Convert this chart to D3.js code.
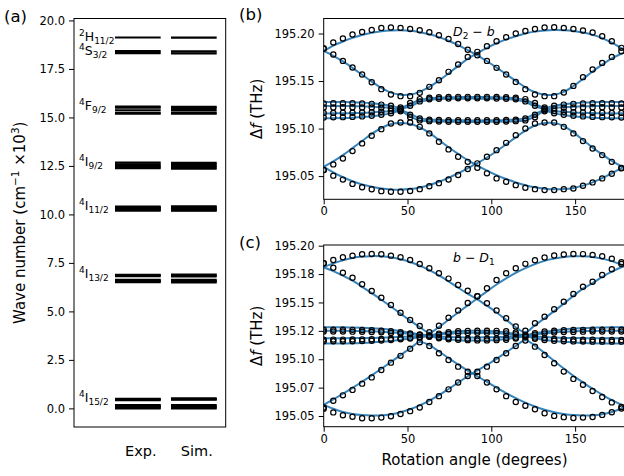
<!DOCTYPE html>
<html>
<head>
<meta charset="utf-8">
<script src="https://cdnjs.cloudflare.com/ajax/libs/d3/7.8.5/d3.min.js"></script>
<style>
  body { margin: 0; background: #fff; }
  text { font-family: "DejaVu Sans", sans-serif; fill: #000; }
</style>
</head>
<body>
<div id="chart-area"></div>
<script>
// ---------- panel (a): energy levels, 10^3 cm^-1 ----------
var columns = ["Exp.", "Sim."];
var termSup = ["2", "4", "4", "4", "4", "4", "4"];
var termLetter = ["H", "S", "F", "I", "I", "I", "I"];
var termSub = ["11/2", "3/2", "9/2", "9/2", "11/2", "13/2", "15/2"];
var expLevels = [
  [19.12],
  [18.31, 18.42],
  [15.19, 15.24, 15.37, 15.50, 15.56],
  [12.38, 12.43, 12.50, 12.58, 12.67],
  [10.20, 10.23, 10.28, 10.33, 10.36, 10.40],
  [6.51, 6.55, 6.59, 6.62, 6.82, 6.86, 6.89],
  [0.0, 0.04, 0.09, 0.13, 0.165, 0.43, 0.46, 0.49]
];
var simLevels = [
  [19.11],
  [18.30, 18.40],
  [15.19, 15.25, 15.38, 15.49, 15.55],
  [12.36, 12.42, 12.50, 12.58, 12.66],
  [10.19, 10.22, 10.27, 10.32, 10.37, 10.42],
  [6.50, 6.54, 6.58, 6.63, 6.81, 6.85, 6.90],
  [0.0, 0.05, 0.10, 0.17, 0.45, 0.48, 0.52]
];
var aTicks = [0, 2.5, 5, 7.5, 10, 12.5, 15, 17.5, 20];

// ---------- panels (b), (c): line frequencies vs rotation angle ----------
// frequencies are in GHz above 195 THz
var F0 = 195;
// measurement angles (0.1 rad steps, in degrees)
var angles = [0, 5.73, 11.46, 17.19, 22.92, 28.65, 34.38, 40.11, 45.84, 51.57, 57.30,
  63.03, 68.75, 74.48, 80.21, 85.94, 91.67, 97.40, 103.13, 108.86, 114.59, 120.32,
  126.05, 131.78, 137.51, 143.24, 148.97, 154.70, 160.43, 166.16, 171.89, 177.62];
// simulation curves run on to the end of the axis
var simAngles = angles.concat([180]);

// (b) D2 - b, measured
var bExpA = [184.2,190.5,194.7,198.9,201.7,203.8,205.9,206.3,205.9,204.8,203.5,201.4,198.2,194.3,189.0,183.0,177.2,171.2,163.9,156.9,149.1,141.5,135.9,134.1,134.1,138.0,144.9,154.1,162.2,169.1,175.4,181.4];
var bExpB = [184.2,178.0,171.2,164.3,156.9,148.8,141.5,135.9,134.1,134.1,137.6,143.9,150.9,159.7,167.4,175.4,180.7,186.7,191.9,196.1,200.0,202.7,204.8,206.3,206.6,205.9,204.8,203.1,201.0,197.2,191.9,184.9];
var bExpC = [56.3,50.5,46.3,41.8,38.2,36.1,34.2,33.5,33.5,34.3,36.3,39.3,42.6,46.5,51.1,57.4,63.4,70.3,77.3,85.0,93.1,100.1,105.4,106.4,106.4,101.8,94.9,86.8,79.1,72.1,65.0,58.7];
var bExpD = [56.3,62.3,68.6,76.3,84.4,92.4,99.4,105.4,106.4,106.4,101.8,94.9,86.1,78.1,70.3,65.0,58.7,52.9,47.6,44.0,40.5,37.7,36.3,35.3,35.3,36.3,37.0,39.8,43.4,47.6,52.4,58.1];
var bExpM1 = [126.4,126.6,126.7,126.7,126.5,126.0,125.2,124.0,122.2,127.0,131.0,132.4,133.0,133.3,133.4,133.4,133.4,133.4,133.3,133.0,132.4,131.0,127.0,122.2,124.0,125.2,126.0,126.5,126.7,126.7,126.6,126.4];
var bExpM2 = [122.2,122.3,122.4,122.4,122.3,122.1,121.8,121.2,120.6,124.0,128.6,130.8,131.4,131.7,131.8,131.8,131.8,131.8,131.7,131.4,130.8,128.6,124.0,120.6,121.2,121.8,122.1,122.3,122.4,122.4,122.3,122.2];
var bExpM3 = [116.5,116.5,116.6,116.7,116.9,117.2,117.7,118.4,119.2,114.5,110.6,109.4,109.0,108.8,108.7,108.7,108.7,108.7,108.8,109.0,109.4,110.6,114.5,119.2,118.4,117.7,117.2,116.9,116.7,116.6,116.5,116.5];
var bExpM4 = [111.7,111.8,112.0,112.3,112.8,113.5,114.5,116.0,118.2,112.0,108.6,107.8,107.4,107.2,107.1,107.1,107.1,107.1,107.2,107.4,107.8,108.6,112.0,118.2,116.0,114.5,113.5,112.8,112.3,112.0,111.8,111.7];

// (b) simulation (last value at 180 deg)
var bSimA = [181.4,187.2,191.6,195.4,198.4,200.8,202.4,203.2,203.4,202.8,201.4,199.2,196.2,192.4,187.8,182.6,177.0,170.8,164.2,157.2,150.2,143.4,138.2,135.6,135.6,138.6,144.6,152.2,160.0,167.2,173.8,178.8,180.8];
var bSimB = [181.4,176.6,170.6,163.8,156.6,149.4,142.8,137.8,135.6,135.8,138.6,143.8,150.4,158.0,166.0,173.4,179.4,185.0,189.8,193.8,197.2,200.0,202.0,203.2,203.6,203.4,202.6,201.0,198.6,195.2,190.4,184.6,182.2];
var bSimC = [59.8,54.0,48.8,44.6,41.2,38.8,37.0,36.0,35.8,36.4,38.0,40.6,44.0,48.2,53.0,58.2,63.6,69.6,76.2,83.4,90.8,97.8,103.2,105.8,105.8,102.6,96.0,88.0,80.0,72.8,66.0,60.4,58.6];
var bSimD = [59.8,65.4,72.0,79.4,87.0,94.4,100.6,104.8,105.8,104.8,101.2,95.4,88.0,80.4,73.4,66.8,61.0,55.8,51.0,47.0,43.4,40.4,38.2,36.8,36.2,36.4,37.6,40.0,43.4,47.8,53.0,58.4,60.4];
var bSimM1 = [128.0,128.0,127.9,127.7,127.3,126.6,125.5,124.0,122.0,126.0,130.0,131.8,132.6,133.0,133.1,133.2,133.2,133.1,133.0,132.6,131.8,130.0,126.0,122.0,124.0,125.5,126.6,127.3,127.7,127.9,128.0,128.0,128.0];
var bSimM2 = [123.8,123.8,123.7,123.6,123.4,123.0,122.4,121.6,120.6,123.5,127.8,130.2,131.0,131.3,131.4,131.5,131.5,131.4,131.3,131.0,130.2,127.8,123.5,120.6,121.6,122.4,123.0,123.4,123.6,123.7,123.8,123.8,123.8];
var bSimM3 = [116.0,116.0,116.1,116.3,116.6,117.0,117.6,118.4,119.4,115.5,111.0,109.6,109.1,108.8,108.7,108.6,108.6,108.7,108.8,109.1,109.6,111.0,115.5,119.4,118.4,117.6,117.0,116.6,116.3,116.1,116.0,116.0,116.0];
var bSimM4 = [110.8,110.9,111.1,111.5,112.1,113.0,114.3,116.0,118.4,112.5,108.6,107.8,107.4,107.2,107.1,107.0,107.0,107.1,107.2,107.4,107.8,108.6,112.5,118.4,116.0,114.3,113.0,112.1,111.5,111.1,110.9,110.8,110.8];

// (c) b - D1, measured
var cExpA = [184.5,180.6,176.2,171.8,166.0,160.1,154.2,147.8,141.0,134.6,129.3,123.8,129.5,136.5,143.0,149.5,155.5,162.5,169.8,175.7,180.1,184.0,187.2,189.6,191.3,192.3,192.7,192.6,191.9,190.7,188.6,185.4];
var cExpB = [184.5,187.4,189.8,191.2,192.4,192.7,192.4,191.2,189.8,187.4,183.9,180.1,175.7,171.0,165.4,160.3,155.5,149.3,143.0,136.1,128.8,125.2,131.7,137.5,144.0,150.7,157.5,163.9,168.3,174.2,179.2,183.9];
var cExpC = [57.5,63.5,68.2,73.0,78.5,84.0,90.5,97.0,103.0,109.3,115.0,111.7,105.3,99.4,93.5,89.0,85.2,79.5,73.5,67.5,62.4,59.0,56.0,52.5,50.1,49.0,48.3,48.6,49.2,51.0,53.3,56.6];
var cExpD = [56.4,53.2,50.7,49.3,48.1,48.1,48.6,49.8,51.8,54.3,57.5,62.4,67.5,73.5,79.5,85.2,89.0,93.5,99.4,105.3,111.7,116.5,111.1,103.8,96.5,89.1,82.7,77.5,72.0,66.8,62.0,58.0];
var cExpM1 = [126.0,126.0,126.0,125.9,125.8,125.6,125.2,124.6,123.8,122.8,121.8,121.0,122.6,123.8,124.6,125.0,125.2,125.2,125.0,124.6,123.6,121.5,123.0,124.4,125.2,125.6,125.8,125.9,126.0,126.0,126.0,126.0];
var cExpM2 = [124.4,124.4,124.4,124.3,124.2,124.0,123.7,123.2,122.6,122.0,121.3,120.6,121.6,122.4,122.9,123.2,123.4,123.4,123.2,122.8,122.0,120.8,121.8,122.8,123.5,123.9,124.1,124.3,124.4,124.4,124.4,124.4];
var cExpM3 = [117.3,117.3,117.3,117.4,117.5,117.6,117.8,118.1,118.5,119.0,119.6,120.2,119.4,118.8,118.4,118.1,118.0,118.0,118.2,118.6,119.2,120.0,119.2,118.4,117.9,117.6,117.4,117.2,117.1,117.0,117.0,117.0];
var cExpM4 = [115.8,115.8,115.8,115.9,116.0,116.2,116.5,116.9,117.5,118.2,119.0,119.8,118.4,117.6,117.1,116.8,116.6,116.6,116.8,117.2,118.2,119.6,118.0,116.9,116.3,115.9,115.7,115.6,115.5,115.5,115.5,115.5];

// (c) simulation (last value at 180 deg)
var cSimA = [181.0,177.6,173.6,169.2,163.8,158.2,152.4,146.4,140.2,134.0,128.4,123.4,128.4,134.8,141.2,147.4,153.6,159.8,165.8,171.2,176.0,180.2,183.8,186.6,188.6,190.0,190.6,190.6,190.0,188.6,186.4,183.2,181.4];
var cSimB = [181.0,184.4,187.2,189.2,190.4,190.8,190.6,189.8,188.0,185.6,182.4,178.4,173.8,168.6,163.0,157.6,152.8,147.2,141.2,134.8,128.2,123.8,130.0,136.0,142.4,149.0,155.8,162.2,167.0,172.6,177.2,181.0,182.0];
var cSimC = [59.8,64.6,69.6,74.8,80.2,85.8,91.6,97.6,103.6,109.6,115.2,112.4,106.8,101.0,95.4,90.0,85.0,80.0,75.0,70.2,65.8,61.8,58.4,55.6,53.4,51.8,50.8,50.4,50.6,51.6,53.6,56.8,59.6];
var cSimD = [59.8,56.4,53.6,51.8,50.8,50.4,50.6,51.6,53.4,56.0,59.4,63.6,68.4,73.8,79.4,85.0,90.2,95.0,100.4,106.0,111.8,116.8,112.0,105.4,98.6,91.8,85.4,79.6,74.0,68.8,64.0,60.0,58.6];
var cSimM1 = [128.2,128.2,128.1,128.0,127.8,127.4,126.8,126.0,124.8,123.4,122.0,121.2,122.6,123.8,124.6,125.0,125.0,124.8,124.4,123.6,122.2,121.4,122.8,124.2,125.4,126.4,127.0,127.5,127.8,128.0,128.1,128.2,128.2];
var cSimM2 = [125.0,125.0,125.0,124.9,124.8,124.6,124.3,123.8,123.2,122.4,121.6,120.8,121.8,122.5,122.9,123.2,123.2,123.1,122.8,122.3,121.4,120.9,121.8,122.8,123.6,124.2,124.6,124.8,124.9,125.0,125.0,125.0,125.0];
var cSimM3 = [118.5,118.5,118.5,118.6,118.7,118.8,119.0,119.3,119.6,120.0,120.4,120.6,120.0,119.6,119.3,119.2,119.2,119.3,119.5,119.8,120.3,120.5,120.0,119.5,119.1,118.8,118.7,118.6,118.5,118.5,118.5,118.5,118.5];
var cSimM4 = [113.8,113.8,113.9,114.0,114.3,114.7,115.3,116.1,117.1,118.2,119.3,120.2,118.6,117.5,116.8,116.5,116.4,116.6,117.0,117.8,119.0,120.0,118.6,117.2,116.1,115.3,114.7,114.3,114.1,113.9,113.8,113.8,113.8];

var xTicks = [0, 50, 100, 150];
var bTicks = [195.05, 195.10, 195.15, 195.20];
var cTicks = [195.05, 195.075, 195.10, 195.125, 195.15, 195.175, 195.20];
var cTickLabels = ["195.05", "195.07", "195.10", "195.12", "195.15", "195.18", "195.20"];

// ---------- drawing ----------
var svg = d3.select("#chart-area").append("svg")
  .attr("width", 624)
  .attr("height", 476);

var TICK_FONT = 11.5, LABEL_FONT = 15;

function styleAxis(g) {
  g.select(".domain").remove();
  g.attr("font-family", "DejaVu Sans").attr("font-size", TICK_FONT);
  g.selectAll(".tick line").attr("stroke", "#000").attr("stroke-width", 1);
  g.selectAll(".tick text").attr("fill", "#000");
}

function frame(l, t, r, b) {
  svg.append("rect")
    .attr("x", l).attr("y", t)
    .attr("width", r - l).attr("height", b - t)
    .attr("fill", "none").attr("stroke", "#000").attr("stroke-width", 1);
}

// panel (a)
var pa = { l: 74, t: 18.5, r: 225.7, b: 427 };
var yA = d3.scaleLinear().domain([-0.96, 20.1]).range([pa.b, pa.t]);
var xA = d3.scaleBand().domain(columns).range([115, 216.7]).paddingInner(0.184);

svg.append("g")
  .attr("transform", "translate(" + pa.l + ",0)")
  .call(d3.axisLeft(yA).tickValues(aTicks).tickFormat(d3.format(".1f")).tickSize(5).tickPadding(4))
  .call(styleAxis);

[expLevels, simLevels].forEach(function (set, ci) {
  set.forEach(function (levels) {
    svg.append("g").selectAll("line")
      .data(levels)
      .enter()
      .append("line")
      .attr("x1", xA(columns[ci]))
      .attr("x2", xA(columns[ci]) + xA.bandwidth())
      .attr("y1", function (d) { return yA(d); })
      .attr("y2", function (d) { return yA(d); })
      .attr("stroke", "#000")
      .attr("stroke-width", 2.2);
  });
});

termLetter.forEach(function (letter, i) {
  var top = yA(d3.max(expLevels[i])) - 1;
  var t = svg.append("text")
    .attr("x", 79)
    .attr("y", top + 4.5)
    .attr("font-size", 12.5);
  t.append("tspan").attr("font-size", 9).attr("dy", -5).text(termSup[i]);
  t.append("tspan").attr("dy", 5).text(letter);
  t.append("tspan").attr("font-size", 9).attr("dy", 3).text(termSub[i]);
});

columns.forEach(function (c) {
  svg.append("text")
    .attr("x", xA(c) + xA.bandwidth() / 2 + 3)
    .attr("y", 456)
    .attr("text-anchor", "middle")
    .attr("font-size", 14.5)
    .text(c);
});

frame(pa.l, pa.t, pa.r, pa.b);

var yLabA = svg.append("text")
  .attr("transform", "translate(25," + ((pa.t + pa.b) / 2) + ") rotate(-90)")
  .attr("text-anchor", "middle")
  .attr("font-size", LABEL_FONT);
yLabA.append("tspan").text("Wave number (cm");
yLabA.append("tspan").attr("font-size", 10.5).attr("dy", -6).text("\u22121");
yLabA.append("tspan").attr("dy", 6).text(" \u00d710");
yLabA.append("tspan").attr("font-size", 10.5).attr("dy", -6).text("3");
yLabA.append("tspan").attr("dy", 6).text(")");

// panels (b), (c)
function anglePanel(opt) {
  var x = d3.scaleLinear().domain([0, 180]).range([opt.l, opt.r]);
  var y = d3.scaleLinear().domain(opt.yDomain).range([opt.b, opt.t]);
  var clipId = "clip" + opt.id;

  svg.append("clipPath").attr("id", clipId)
    .append("rect")
    .attr("x", opt.l).attr("y", opt.t)
    .attr("width", opt.r - opt.l).attr("height", opt.b - opt.t);

  var plot = svg.append("g").attr("clip-path", "url(#" + clipId + ")");

  var line = d3.line()
    .x(function (d, i) { return x(simAngles[i]); })
    .y(function (d) { return y(F0 + d / 1000); })
    .curve(d3.curveCatmullRom.alpha(0.5));

  opt.sim.forEach(function (s) {
    plot.append("path")
      .datum(s)
      .attr("d", line)
      .attr("fill", "none")
      .attr("stroke", "#1f77b4")
      .attr("stroke-width", 2)
      .attr("stroke-opacity", 0.9);
  });

  opt.exp.forEach(function (s) {
    plot.append("g").selectAll("circle")
      .data(s)
      .enter()
      .append("circle")
      .attr("cx", function (d, i) { return x(angles[i]); })
      .attr("cy", function (d) { return y(F0 + d / 1000); })
      .attr("r", 2.6)
      .attr("fill", "none")
      .attr("stroke", "#000")
      .attr("stroke-width", 1.2);
  });

  svg.append("g")
    .attr("transform", "translate(" + opt.l + ",0)")
    .call(d3.axisLeft(y).tickValues(opt.yTicks).tickFormat(opt.yFormat).tickSize(5).tickPadding(4))
    .call(styleAxis);

  svg.append("g")
    .attr("transform", "translate(0," + opt.b + ")")
    .call(d3.axisBottom(x).tickValues(xTicks).tickFormat(d3.format("d")).tickSize(5).tickPadding(3))
    .call(styleAxis);

  frame(opt.l, opt.t, opt.r, opt.b);

  var yl = svg.append("text")
    .attr("transform", "translate(261.5," + ((opt.t + opt.b) / 2) + ") rotate(-90)")
    .attr("text-anchor", "middle")
    .attr("font-size", LABEL_FONT);
  yl.append("tspan").text("\u0394");
  yl.append("tspan").attr("font-style", "italic").text("f");
  yl.append("tspan").text(" (THz)");

  var note = svg.append("text")
    .attr("x", 453)
    .attr("y", opt.t + 17)
    .attr("font-size", 12.5);
  opt.note(note);
}

anglePanel({
  id: "b", l: 323.7, r: 625.4, t: 18.5, b: 199.3,
  yDomain: [195.0256, 195.2158],
  yTicks: bTicks,
  yFormat: d3.format(".2f"),
  exp: [bExpA, bExpB, bExpC, bExpD, bExpM1, bExpM2, bExpM3, bExpM4],
  sim: [bSimA, bSimB, bSimC, bSimD, bSimM1, bSimM2, bSimM3, bSimM4],
  note: function (t) {
    t.append("tspan").attr("font-style", "italic").text("D");
    t.append("tspan").attr("font-size", 9).attr("dy", 3).text("2");
    t.append("tspan").attr("dy", -3).text(" \u2212 ");
    t.append("tspan").attr("font-style", "italic").text("b");
  }
});

anglePanel({
  id: "c", l: 323.7, r: 625.4, t: 245, b: 426.7,
  yDomain: [195.0406, 195.2006],
  yTicks: cTicks,
  yFormat: function (d, i) { return cTickLabels[i]; },
  exp: [cExpA, cExpB, cExpC, cExpD, cExpM1, cExpM2, cExpM3, cExpM4],
  sim: [cSimA, cSimB, cSimC, cSimD, cSimM1, cSimM2, cSimM3, cSimM4],
  note: function (t) {
    t.append("tspan").attr("font-style", "italic").text("b");
    t.append("tspan").text(" \u2212 ");
    t.append("tspan").attr("font-style", "italic").text("D");
    t.append("tspan").attr("font-size", 9).attr("dy", 3).text("1");
  }
});

svg.append("text")
  .attr("x", (323.7 + 625.4) / 2)
  .attr("y", 465)
  .attr("text-anchor", "middle")
  .attr("font-size", LABEL_FONT)
  .text("Rotation angle (degrees)");

// panel letters
[["(a)", 4, 22], ["(b)", 239, 20], ["(c)", 239, 248]].forEach(function (p) {
  svg.append("text")
    .attr("x", p[1]).attr("y", p[2])
    .attr("font-size", 16.5)
    .text(p[0]);
});
</script>
</body>
</html>
